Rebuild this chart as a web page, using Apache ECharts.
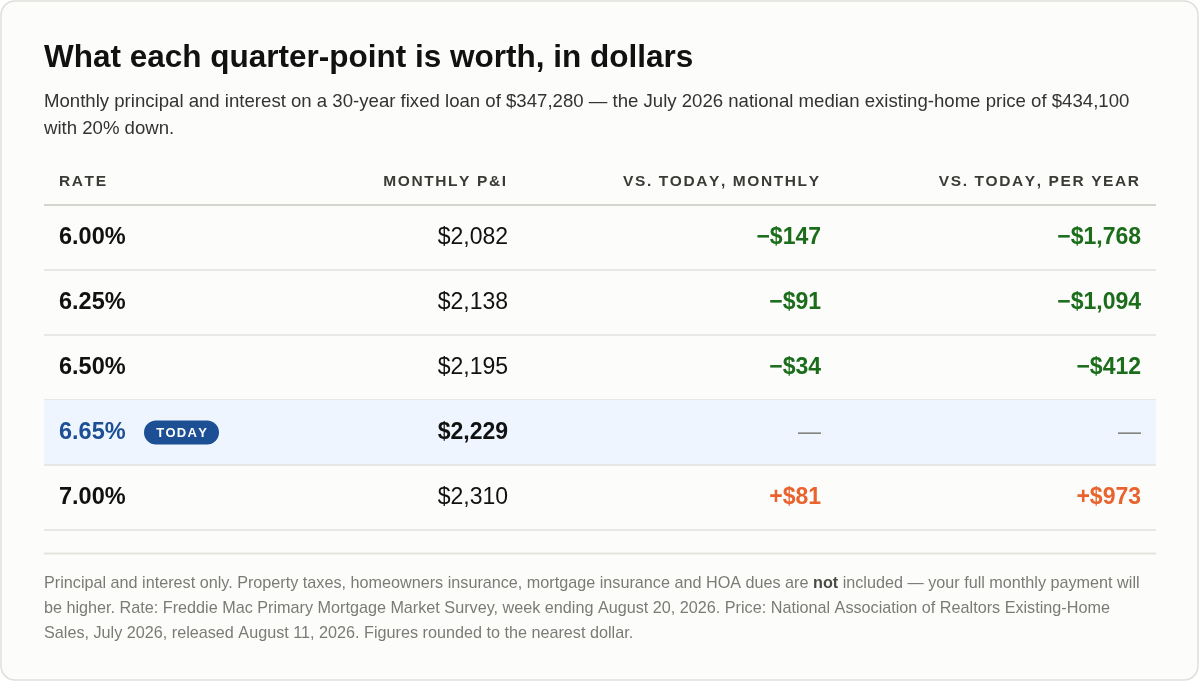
<!DOCTYPE html>
<html lang="en">
<head>
<meta charset="utf-8">
<title>What each quarter-point is worth, in dollars</title>
<script src="https://cdn.jsdelivr.net/npm/echarts@6/dist/echarts.min.js"></script>
<style>
  html, body { margin: 0; padding: 0; background: #ffffff; }
  #container { width: 1200px; height: 683px; }
</style>
</head>
<body>
<div id="container"></div>
<script>
// table data
var rates = ['6.00%', '6.25%', '6.50%', '6.65%', '7.00%'];
var monthlyPI = [2082, 2138, 2195, 2229, 2310];
var vsTodayMonthly = [-147, -91, -34, 0, 81];
var vsTodayYear = [-1768, -1094, -412, 0, 973];
var todayIndex = 3;
var headers = ['RATE', 'MONTHLY P&I', 'VS. TODAY, MONTHLY', 'VS. TODAY, PER YEAR'];

var FONT = '"Liberation Sans", Arial, Helvetica, sans-serif';
var GREEN = '#1b6d1b', ORANGE = '#e8632d', BLUE = '#1c4f94';

function money(v) { return '$' + Math.abs(v).toLocaleString('en-US'); }
function diff(v) {
  if (v === 0) return '—';
  return (v < 0 ? '\u2212' : '+') + money(v);
}
function diffColor(v) { return v < 0 ? GREEN : (v > 0 ? ORANGE : '#85857f'); }

// letter-spaced text: one text element per character
var measureCtx = document.createElement('canvas').getContext('2d');
function spacedText(text, x, y, align, font, fill, spacing) {
  measureCtx.font = font;
  var widths = text.split('').map(function (ch) { return measureCtx.measureText(ch).width; });
  var total = widths.reduce(function (a, b) { return a + b; }, 0) + spacing * (text.length - 1);
  var sx = align === 'left' ? x : (align === 'right' ? x - total : x - total / 2);
  return text.split('').map(function (ch, k) {
    var el = { type: 'text', x: sx, y: y, style: { text: ch, verticalAlign: 'middle', fill: fill, font: font } };
    sx += widths[k] + spacing;
    return el;
  });
}

// x anchors, in px from the grid's left edge
var colX = [15, 464, 777, 1097];

function renderRow(params, api) {
  var i = api.value(0);
  var c = api.coord([0, i]);
  var h = api.size([0, 1])[1];
  var x0 = c[0], w = api.coord([1112, i])[0] - x0;
  var top = c[1] - h / 2, mid = c[1];
  var isToday = i === todayIndex;
  var kids = [];
  if (isToday) {
    kids.push({ type: 'rect', shape: { x: x0, y: top, width: w, height: h }, style: { fill: '#eff5fe' } });
  }
  kids.push({ type: 'line', shape: { x1: x0, y1: top + h, x2: x0 + w, y2: top + h }, style: { stroke: '#e2e2df', lineWidth: 1.5 } });
  function tx(col, text, align, color, bold, size) {
    return {
      type: 'text', x: api.coord([colX[col], i])[0], y: mid,
      style: { text: text, align: align, verticalAlign: 'middle', fill: color,
        font: (bold ? 'bold ' : '') + (size || 23) + 'px ' + FONT }
    };
  }
  kids.push(tx(0, rates[i], 'left', isToday ? BLUE : '#111', true, 23.5));
  kids.push(tx(1, money(monthlyPI[i]), 'right', '#111', isToday));
  kids.push(tx(2, diff(vsTodayMonthly[i]), 'right', diffColor(vsTodayMonthly[i]), !isToday));
  kids.push(tx(3, diff(vsTodayYear[i]), 'right', diffColor(vsTodayYear[i]), !isToday));
  if (isToday) {
    kids.push({ type: 'rect', shape: { x: x0 + 100, y: mid - 12, width: 75, height: 24, r: 12 }, style: { fill: BLUE } });
    kids = kids.concat(spacedText('TODAY', x0 + 137.5, mid + 0.5, 'center', 'bold 13px ' + FONT, '#fff', 1.3));
  }
  return { type: 'group', children: kids };
}

var myChart = echarts.init(document.getElementById('container'));

var headerGraphics = [];
headers.forEach(function (t, k) {
  headerGraphics = headerGraphics.concat(
    spacedText(t, 44 + colX[k] - (k === 0 ? 0 : 2), 182, k === 0 ? 'left' : 'right', 'bold 15.5px ' + FONT, '#3a3a36', 1.6));
});

var option = {
  animation: false,
  grid: { left: 44, right: 44, top: 205, height: 325 },
  xAxis: { type: 'value', min: 0, max: 1112, show: false },
  yAxis: { type: 'category', data: rates, inverse: true, show: false },
  graphic: [
    { type: 'rect', z: -10, shape: { x: 1, y: 1, width: 1197, height: 679, r: 14 },
      style: { fill: '#fcfcfa', stroke: '#dfdfda', lineWidth: 1.5 } },
    { type: 'text', x: 44, y: 58, style: { text: 'What each quarter-point is worth, in dollars',
      verticalAlign: 'middle', fill: '#111', font: 'bold 31.5px ' + FONT } },
    { type: 'text', x: 44, y: 102, style: { text: 'Monthly principal and interest on a 30-year fixed loan of $347,280 — the July 2026 national median existing-home price of $434,100',
      verticalAlign: 'middle', fill: '#333', font: '18.6px ' + FONT } },
    { type: 'text', x: 44, y: 129, style: { text: 'with 20% down.',
      verticalAlign: 'middle', fill: '#333', font: '18.6px ' + FONT } },
    { type: 'line', shape: { x1: 44, y1: 205, x2: 1156, y2: 205 }, style: { stroke: '#c9c9c0', lineWidth: 1.5 } },
    { type: 'line', shape: { x1: 44, y1: 553.5, x2: 1156, y2: 553.5 }, style: { stroke: '#e4e4de', lineWidth: 2 } },
    { type: 'text', x: 44, y: 571,
      style: {
        text: 'Principal and interest only. Property taxes, homeowners insurance, mortgage insurance and HOA dues are {b|not} included — your full monthly payment will\nbe higher. Rate: Freddie Mac Primary Mortgage Market Survey, week ending August 20, 2026. Price: National Association of Realtors Existing-Home\nSales, July 2026, released August 11, 2026. Figures rounded to the nearest dollar.',
        fill: '#7b7b76', font: '16.2px ' + FONT, lineHeight: 25,
        rich: { b: { fontWeight: 'bold', fill: '#4a4a46', fontSize: 16.2, fontFamily: FONT, lineHeight: 25 } }
      } }
  ].concat(headerGraphics),
  series: [{
    type: 'custom',
    renderItem: renderRow,
    data: rates.map(function (r, i) { return [i]; })
  }]
};
myChart.setOption(option);
</script>
</body>
</html>
